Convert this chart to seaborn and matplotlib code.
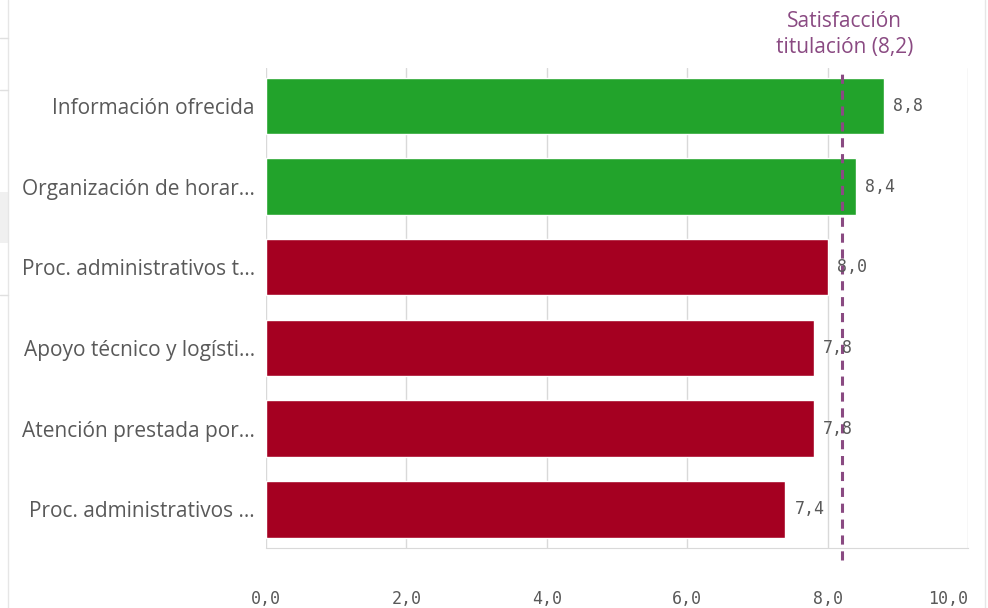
import pandas as pd
import matplotlib.pyplot as plt
import seaborn as sns
from matplotlib.lines import Line2D
from matplotlib.patches import Rectangle

# Data
categories = [
    "Información ofrecida",
    "Organización de horar...",
    "Proc. administrativos t...",
    "Apoyo técnico y logísti...",
    "Atención prestada por...",
    "Proc. administrativos ...",
]
scores = [8.8, 8.4, 8.0, 7.8, 7.8, 7.4]
bar_colors = ["#22a32b", "#22a32b", "#a50021", "#a50021", "#a50021", "#a50021"]
reference_value = 8.2
reference_label = "Satisfacción\ntitulación (8,2)"
x_ticks = [0, 2, 4, 6, 8, 10]

df = pd.DataFrame({"categoria": categories, "valor": scores})

sns.set_style("white")
plt.rcParams["font.family"] = ["Open Sans", "DejaVu Sans"]

text_grey = "#595959"
grid_grey = "#d9d9d9"
purple = "#8a4a82"

fig = plt.figure(figsize=(9.88, 6.08), dpi=100)
ax = fig.add_axes([266 / 988, 1 - 548 / 608, (968 - 266) / 988, (548 - 68) / 608])

sns.barplot(
    data=df,
    x="valor",
    y="categoria",
    hue="categoria",
    palette=bar_colors,
    saturation=1,
    legend=False,
    orient="h",
    width=0.7,
    ax=ax,
    zorder=2,
)

ax.set_xlim(0, 10)
ax.set_ylim(5.48, -0.47)
ax.set_xticks(x_ticks)
ax.set_xticklabels([f"{t:.1f}".replace(".", ",") for t in x_ticks],
                   family="DejaVu Sans Mono", fontsize=12, color=text_grey)
ax.get_xticklabels()[-1].set_horizontalalignment("right")
ax.tick_params(axis="x", length=11, width=1, color=grid_grey, pad=19)
ax.tick_params(axis="y", length=0, pad=8, labelsize=15, labelcolor=text_grey)
ax.set_xlabel("")
ax.set_ylabel("")
ax.grid(axis="x", color=grid_grey, linewidth=1, zorder=0)
ax.set_axisbelow(True)

for side in ["top", "left", "right"]:
    ax.spines[side].set_visible(False)
ax.spines["bottom"].set_color(grid_grey)

# Value labels
for i, v in enumerate(scores):
    ax.text(v + 0.13, i, f"{v:.1f}".replace(".", ","), va="center", ha="left",
            fontsize=12, color=text_grey, family="DejaVu Sans Mono", zorder=4)

# Reference line
ax.axvline(reference_value, ymin=-0.025, color=purple, linestyle=(0, (3, 2.2)),
           linewidth=2.2, zorder=3, clip_on=False)
ax.text(reference_value + 0.04, -0.6, reference_label, ha="center", va="bottom",
        fontsize=15, color=purple, linespacing=1.3, clip_on=False)

# Panel frame lines from the surrounding dashboard
fig.add_artist(Line2D([8 / 988, 8 / 988], [0, 1], color="#e6e6e6", lw=1))
fig.add_artist(Line2D([985 / 988, 985 / 988], [0, 1], color="#e6e6e6", lw=1))
for yy in [38, 90, 295]:
    fig.add_artist(Line2D([0, 8 / 988], [1 - yy / 608, 1 - yy / 608], color="#e0e0e0", lw=1))
fig.add_artist(Rectangle((0, 1 - 243 / 608), 8 / 988, 51 / 608, color="#f0f0f0", lw=0))

fig.savefig("out.png", dpi=100)
